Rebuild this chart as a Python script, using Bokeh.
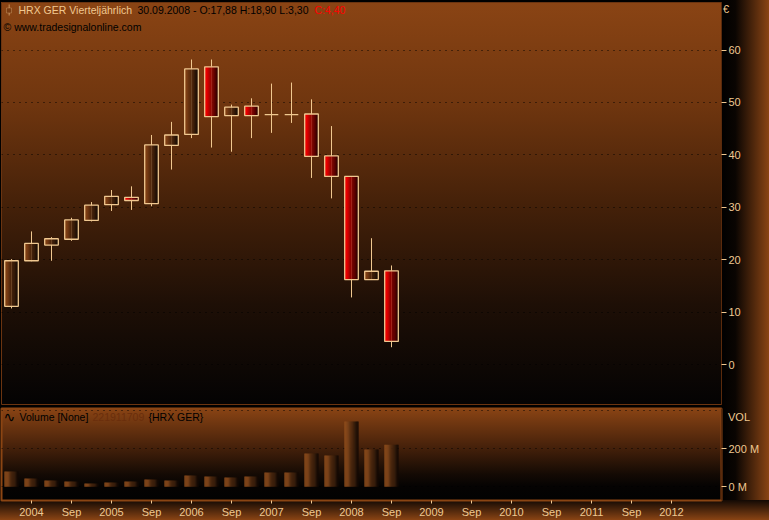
import numpy as np
from bokeh.plotting import figure
from bokeh.layouts import column
from bokeh.models import FixedTicker, Label, BoxAnnotation, Div
from bokeh.embed import file_html
from bokeh.resources import INLINE

# ---------------- data (quarterly, Q4 2003 .. Q3 2008) ----------------
quarters = ["Q4 2003", "Q1 2004", "Q2 2004", "Q3 2004", "Q4 2004", "Q1 2005", "Q2 2005",
            "Q3 2005", "Q4 2005", "Q1 2006", "Q2 2006", "Q3 2006", "Q4 2006", "Q1 2007",
            "Q2 2007", "Q3 2007", "Q4 2007", "Q1 2008", "Q2 2008", "Q3 2008"]
opens = [11.1, 19.8, 22.8, 23.9, 27.5, 30.5, 31.9, 30.7, 41.8, 43.9,
         56.8, 47.5, 49.3, 47.7, 47.7, 47.8, 39.8, 35.9, 16.2, 17.88]
highs = [20.1, 25.4, 24.3, 28.0, 31.0, 33.3, 34.0, 43.8, 46.3, 58.2,
         58.2, 49.6, 50.8, 53.6, 53.8, 50.6, 45.5, 35.9, 24.1, 18.90]
lows = [10.7, 19.7, 19.8, 23.6, 27.3, 29.3, 29.5, 30.2, 37.2, 43.2,
        41.4, 40.6, 43.2, 44.2, 46.1, 35.6, 31.7, 12.8, 16.2, 3.30]
closes = [19.8, 23.1, 24.0, 27.6, 30.4, 32.1, 31.3, 41.9, 43.8, 56.4,
          47.3, 49.1, 47.5, 47.7, 47.7, 39.7, 35.9, 16.2, 17.8, 4.40]
volumes_m = [80.7, 43.9, 33.3, 28.0, 17.5, 22.8, 28.0, 38.6, 33.3, 59.6,
             54.4, 49.1, 54.4, 75.4, 75.4, 175.4, 164.9, 343.9, 196.5, 221.9]

price_ticks = [0, 10, 20, 30, 40, 50, 60]
vol_ticks = [0, 200]
vol_tick_labels = ["0 M", "200 M"]
vol_grid = [0, 200, 400]
x_tick_pos = [1, 3, 5, 7, 9, 11, 13, 15, 17, 19, 21, 23, 25, 27, 29, 31, 33]
x_tick_labels = ["2004", "Sep", "2005", "Sep", "2006", "Sep", "2007", "Sep", "2008",
                 "Sep", "2009", "Sep", "2010", "Sep", "2011", "Sep", "2012"]

# ---------------- layout / style ----------------
W = 769
LB, RB = 1, 48
FW = W - LB - RB
P_H, P_T, P_B = 405, 2, 1
P_FH = P_H - P_T - P_B
V_H, V_T, V_B = 115, 3, 20
V_FH = V_H - V_T - V_B

XR = (-0.5, 35.5)
PYR = (-7.63, 69.08)
VYR = (-72, 412)

TAN = "#F0C890"
FONT = "Liberation Sans"
FS = "11px"
HFS = "10.5px"


def mix(c1, c2, t):
    a = [int(c1[i:i + 2], 16) for i in (1, 3, 5)]
    b = [int(c2[i:i + 2], 16) for i in (1, 3, 5)]
    return "#%02x%02x%02x" % tuple(int(round(a[k] + (b[k] - a[k]) * t)) for k in range(3))


def gradient_bars(fig, xs, tops, bottoms, width, cols, k=12):
    sx, st, sb, sc = [], [], [], []
    for x, t, b, (c1, c2) in zip(xs, tops, bottoms, cols):
        for j in range(k):
            sx.append(x - width / 2 + (j + 0.5) * width / k)
            st.append(t)
            sb.append(b)
            sc.append(mix(c1, c2, j / (k - 1)))
    fig.vbar(x=sx, top=st, bottom=sb, width=width / k * 1.15, fill_color=sc, line_color=None)


price_bg = (
    f"linear-gradient(to bottom, #8a4414 0%, #70360f 25%, #452109 50%, #1e0f06 75%, #040303 100%) "
    f"{LB}px {P_T}px / {FW}px {P_FH}px no-repeat, "
    f"linear-gradient(to right, #000000 0%, #0a0502 30%, #8a4414 100%) "
    f"{LB + FW}px 0px / {RB}px {P_H}px no-repeat, #000000"
)
vol_bg = (
    f"linear-gradient(to bottom, #8a4414 0%, #4a230b 40%, #140a04 72%, #050302 85%, #020202 100%) "
    f"{LB}px {V_T}px / {FW}px {V_FH}px no-repeat, "
    f"linear-gradient(to right, #000000 0%, #0a0502 30%, #8a4414 100%) "
    f"{LB + FW}px 0px / {RB}px {V_T + V_FH}px no-repeat, "
    f"linear-gradient(to bottom, #120904 0%, #8a4414 100%) "
    f"0px {V_T + V_FH}px / {W}px {V_B}px no-repeat, #000000"
)

idx = list(range(len(opens)))

# ---------------- price pane ----------------
p = figure(width=W, height=P_H, x_range=XR, y_range=PYR, x_axis_location=None,
           y_axis_location="right", output_backend="svg", toolbar_location=None,
           min_border_left=LB, min_border_right=RB, min_border_top=P_T, min_border_bottom=P_B,
           background_fill_alpha=0, border_fill_alpha=0, outline_line_color="#6b3410",
           styles={"background": price_bg})
p.xgrid.visible = False
p.ygrid.ticker = FixedTicker(ticks=price_ticks)
p.ygrid.grid_line_color = "#000000"
p.ygrid.grid_line_dash = "1 5"
p.ygrid.grid_line_alpha = 0.9
ya = p.yaxis[0]
ya.ticker = FixedTicker(ticks=price_ticks)
ya.major_label_text_color = TAN
ya.major_label_text_font = FONT
ya.major_label_text_font_size = FS
ya.major_tick_in = 0
ya.major_tick_out = 5
ya.major_tick_line_color = TAN
ya.minor_tick_line_color = None
ya.axis_line_color = "#5a2a0c"
ya.major_label_standoff = 2

BW = 0.68
p.segment(x0=idx, y0=lows, x1=idx, y1=highs, line_color=TAN, line_width=1)
tops = [max(o, c) for o, c in zip(opens, closes)]
bots = [min(o, c) for o, c in zip(opens, closes)]
cols = [("#8a4416", "#160b04") if c >= o else ("#ff0000", "#2a0000") for o, c in zip(opens, closes)]
gradient_bars(p, idx, tops, bots, BW, cols)
p.vbar(x=idx, top=tops, bottom=bots, width=BW, fill_alpha=0, line_color=TAN, line_width=1.3)


def px2x(px):
    return (px - 11) / 20.0


def py2p(py):
    return (364 - py) / 5.24


def py2v(py):
    return (486.3 - py) / 38.0 * 200.0


def lab(fig, text, px, y, color, size=HFS, font=FONT):
    fig.add_layout(Label(x=px2x(px), y=y, text=text, text_color=color, text_font=font,
                         text_font_size=size, text_baseline="middle", text_align="left"))


# header
p.add_layout(BoxAnnotation(left=px2x(8.3), right=px2x(8.9), top=py2p(4), bottom=py2p(15),
                           fill_color=TAN, fill_alpha=1, line_color=None))
p.add_layout(BoxAnnotation(left=px2x(6), right=px2x(11), top=py2p(7.5), bottom=py2p(12.5),
                           fill_color="#7a3c12", fill_alpha=1, line_color=TAN, line_width=1))
lab(p, "HRX GER Vierteljährlich", 18, py2p(10), TAN)
lab(p, "30.09.2008 - O:17,88 H:18,90 L:3,30", 137, py2p(10), "#000000")
lab(p, "C:4,40", 314, py2p(10), "#ff0000")
lab(p, "© www.tradesignalonline.com", 3, py2p(27), "#000000")

# ---------------- volume pane ----------------
v = figure(width=W, height=V_H, x_range=p.x_range, y_range=VYR, y_axis_location="right",
           output_backend="svg", toolbar_location=None,
           min_border_left=LB, min_border_right=RB, min_border_top=V_T, min_border_bottom=V_B,
           background_fill_alpha=0, border_fill_alpha=0, outline_line_color="#8B4513",
           outline_line_width=2, styles={"background": vol_bg})
v.xgrid.visible = False
v.ygrid.ticker = FixedTicker(ticks=vol_grid)
v.ygrid.grid_line_color = "#000000"
v.ygrid.grid_line_dash = "1 5"
v.ygrid.grid_line_alpha = 0.9
vy = v.yaxis[0]
vy.ticker = FixedTicker(ticks=vol_ticks)
vy.major_label_overrides = {t: l for t, l in zip(vol_ticks, vol_tick_labels)}
vy.major_label_text_color = TAN
vy.major_label_text_font = FONT
vy.major_label_text_font_size = FS
vy.major_tick_in = 0
vy.major_tick_out = 5
vy.major_tick_line_color = TAN
vy.minor_tick_line_color = None
vy.axis_line_color = "#5a2a0c"
vy.major_label_standoff = 2

vx = v.xaxis[0]
vx.ticker = FixedTicker(ticks=x_tick_pos)
vx.major_label_overrides = {t: l for t, l in zip(x_tick_pos, x_tick_labels)}
vx.major_label_text_color = TAN
vx.major_label_text_font = FONT
vx.major_label_text_font_size = FS
vx.major_label_text_align = "left"
vx.major_tick_in = 0
vx.major_tick_out = 3
vx.major_tick_line_color = TAN
vx.minor_tick_line_color = None
vx.axis_line_color = None
vx.major_label_standoff = 2

gradient_bars(v, idx, volumes_m, [0] * len(volumes_m), 0.7,
              [("#94501e", "#140a04")] * len(volumes_m))

lab(v, "∿", 3, py2v(417), "#000000", size="14px", font="DejaVu Sans")
lab(v, "Volume [None]", 19, py2v(417), "#000000")
lab(v, "221911709", 92, py2v(417), "#6a2e0c")
lab(v, "{HRX GER}", 148, py2v(417), "#000000")

# unit captions in the right-hand axis column (outside the frames)
span_css = (f"position:absolute;color:{TAN};font-family:'{FONT}';font-size:{FS};"
            "line-height:11px;white-space:nowrap;")
captions = Div(
    text=(f'<div style="position:relative;width:0;height:0;z-index:10;">'
          f'<span style="{span_css}left:723px;top:-8px;">€</span>'
          f'<span style="{span_css}left:728px;top:400px;">VOL</span></div>'),
    width=W, height=0, margin=0, styles={"overflow": "visible", "z-index": "10"})

layout = column(captions, p, v, spacing=0)
open("out.html", "w").write(file_html(layout, INLINE))
